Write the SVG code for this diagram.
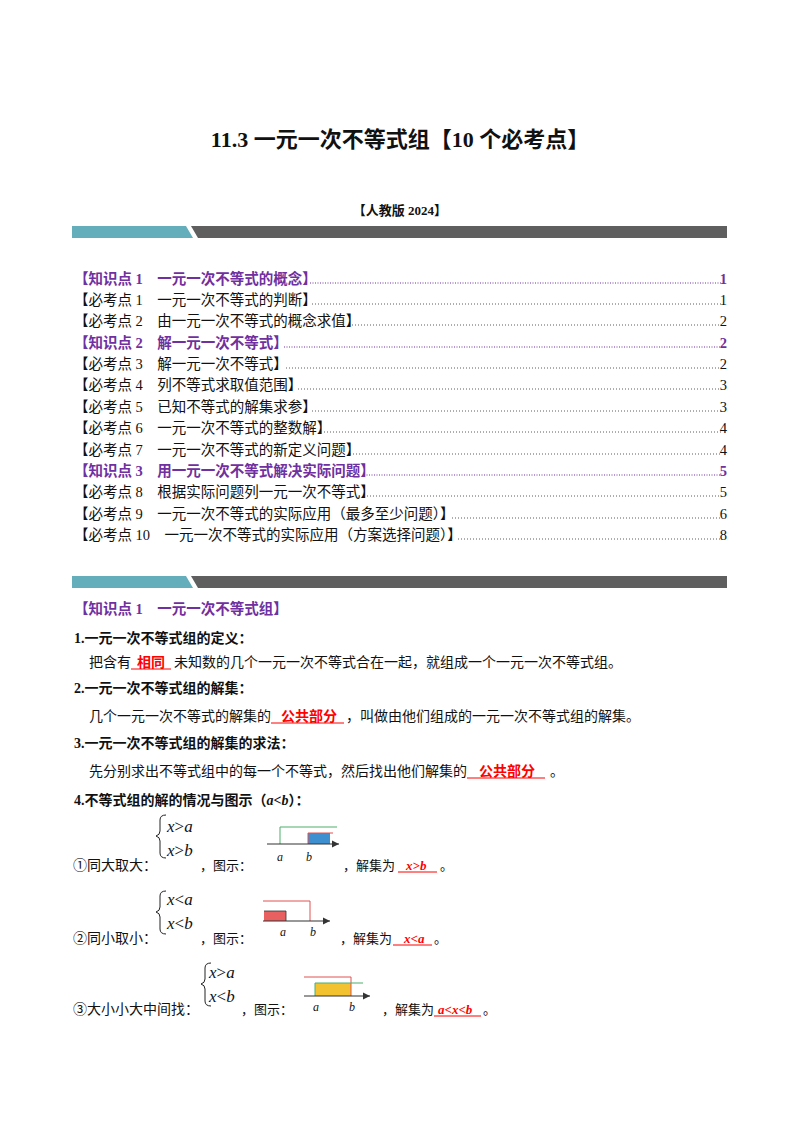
<svg xmlns="http://www.w3.org/2000/svg" width="800" height="1132" viewBox="0 0 800 1132">
<style>
text{font-family:"Liberation Serif","Noto Sans CJK SC",serif;font-size:14.5px;fill:#111}
.c{font-size:14px}
.s{font-size:13px}
.b{font-weight:bold}
.p{fill:#7030a0;font-weight:bold}
.r{fill:#ff0000;font-weight:bold}
.ri{fill:#ff0000;font-weight:bold;font-style:italic}
.i{font-style:italic}
.u{stroke:#ff0000;stroke-width:1}
.ax{stroke:#333;stroke-width:1.2;fill:none}
.dots{stroke:#333;stroke-width:0.8;stroke-dasharray:1 2}
.pd{stroke:#7030a0;stroke-width:1;stroke-dasharray:1 1.5}
</style>
<defs>
<marker id="ar" viewBox="0 0 6 6" refX="6" refY="3" markerWidth="6" markerHeight="6" orient="auto"><path d="M0,0L6,3L0,6z" fill="#333"/></marker>
</defs>
<rect width="800" height="1132" fill="#fff"/>
<text x="400" y="147" text-anchor="middle" class="b" style="font-size:22px">11.3  一元一次不等式组【10 个必考点】</text>
<text x="400" y="215" text-anchor="middle" class="b" style="font-size:13px">【人教版 2024】</text>
<g id="bar1"><path d="M72,226H186L193,238H72z" fill="#64aebb"/><path d="M191,226H727V238H198z" fill="#5f5f5f"/></g>
<g id="toc">
<text x="74" y="284" class="p">【知识点 1　一元一次不等式的概念】</text><line x1="310" y1="283" x2="721" y2="283" class="pd"/><text x="727" y="284" text-anchor="end" class="p">1</text>
<text x="74" y="305">【必考点 1　一元一次不等式的判断】</text><line x1="312" y1="304" x2="721" y2="304" class="dots"/><text x="727" y="305" text-anchor="end">1</text>
<text x="74" y="326">【必考点 2　由一元一次不等式的概念求值】</text><line x1="352" y1="325" x2="721" y2="325" class="dots"/><text x="727" y="326" text-anchor="end">2</text>
<text x="74" y="348" class="p">【知识点 2　解一元一次不等式】</text><line x1="284" y1="347" x2="721" y2="347" class="pd"/><text x="727" y="348" text-anchor="end" class="p">2</text>
<text x="74" y="369">【必考点 3　解一元一次不等式】</text><line x1="286" y1="368" x2="721" y2="368" class="dots"/><text x="727" y="369" text-anchor="end">2</text>
<text x="74" y="390">【必考点 4　列不等式求取值范围】</text><line x1="298" y1="389" x2="721" y2="389" class="dots"/><text x="727" y="390" text-anchor="end">3</text>
<text x="74" y="412">【必考点 5　已知不等式的解集求参】</text><line x1="312" y1="411" x2="721" y2="411" class="dots"/><text x="727" y="412" text-anchor="end">3</text>
<text x="74" y="433">【必考点 6　一元一次不等式的整数解】</text><line x1="324" y1="432" x2="721" y2="432" class="dots"/><text x="727" y="433" text-anchor="end">4</text>
<text x="74" y="455">【必考点 7　一元一次不等式的新定义问题】</text><line x1="350" y1="454" x2="721" y2="454" class="dots"/><text x="727" y="455" text-anchor="end">4</text>
<text x="74" y="476" class="p">【知识点 3　用一元一次不等式解决实际问题】</text><line x1="364" y1="475" x2="721" y2="475" class="pd"/><text x="727" y="476" text-anchor="end" class="p">5</text>
<text x="74" y="497">【必考点 8　根据实际问题列一元一次不等式】</text><line x1="364" y1="496" x2="721" y2="496" class="dots"/><text x="727" y="497" text-anchor="end">5</text>
<text x="74" y="519">【必考点 9　一元一次不等式的实际应用（最多至少问题）】</text><line x1="452" y1="518" x2="721" y2="518" class="dots"/><text x="727" y="519" text-anchor="end">6</text>
<text x="74" y="540">【必考点 10　一元一次不等式的实际应用（方案选择问题）】</text><line x1="458" y1="539" x2="721" y2="539" class="dots"/><text x="727" y="540" text-anchor="end">8</text>
</g>
<g id="bar2"><path d="M72,576H186L193,588H72z" fill="#64aebb"/><path d="M191,576H727V588H198z" fill="#5f5f5f"/></g>
<g id="content">
<text x="74" y="614" class="p">【知识点 1　一元一次不等式组】</text>
<text x="74" y="643" class="b c">1.一元一次不等式组的定义：</text>
<text x="89" y="667" class="c">把含有</text><text x="137" y="667" class="r c">相同</text><text x="174" y="667" class="c">未知数的几个一元一次不等式合在一起，就组成一个一元一次不等式组。</text>
<line x1="131" y1="669" x2="171" y2="669" class="u"/>
<text x="74" y="693" class="b c">2.一元一次不等式组的解集：</text>
<text x="89" y="721" class="c">几个一元一次不等式的解集的</text><text x="281" y="721" class="r c">公共部分</text><text x="346" y="721" class="c">，叫做由他们组成的一元一次不等式组的解集。</text>
<line x1="271" y1="723" x2="344" y2="723" class="u"/>
<text x="74" y="748" class="b c">3.一元一次不等式组的解集的求法：</text>
<text x="89" y="776" class="c">先分别求出不等式组中的每一个不等式，然后找出他们解集的</text><text x="479" y="776" class="r c">公共部分</text><text x="550" y="776" class="c">。</text>
<line x1="467" y1="778" x2="545" y2="778" class="u"/>
<text x="74" y="805" class="b c">4.不等式组的解的情况与图示（<tspan class="i">a</tspan>&lt;<tspan class="i">b</tspan>）：</text>
</g>
<g id="case1">
<path d="M166,815Q160,815 160,820V831Q160,835 156,836Q160,837 160,841V853Q160,858 166,858" fill="none" stroke="#222" stroke-width="1"/>
<text x="167" y="832" style="font-size:17px"><tspan class="i">x</tspan>&gt;<tspan class="i">a</tspan></text>
<text x="167" y="856" style="font-size:17px"><tspan class="i">x</tspan>&gt;<tspan class="i">b</tspan></text>
<text x="73" y="870" class="c">①同大取大：</text>
<text x="200" y="870" class="s">，图示：</text>
<path d="M280,844V827H337" fill="none" stroke="#4caf6a" stroke-width="1"/>
<rect x="308" y="833" width="22" height="11" fill="#3d8fd0"/>
<path d="M308,844V833H333" fill="none" stroke="#e05050" stroke-width="1"/>
<line x1="267" y1="844" x2="339" y2="844" class="ax" marker-end="url(#ar)"/>
<text x="277" y="861" class="i" style="font-size:12px">a</text>
<text x="306" y="861" class="i" style="font-size:12px">b</text>
<text x="343" y="870" class="s">，解集为</text><text x="406" y="870" class="ri s">x&gt;b</text><text x="440" y="870" class="s">。</text>
<line x1="398" y1="872" x2="437" y2="872" class="u"/>
</g>
<g id="case2">
<path d="M166,891Q160,891 160,896V907Q160,911 156,912Q160,913 160,917V929Q160,934 166,934" fill="none" stroke="#222" stroke-width="1"/>
<text x="167" y="905" style="font-size:17px"><tspan class="i">x</tspan>&lt;<tspan class="i">a</tspan></text>
<text x="167" y="929" style="font-size:17px"><tspan class="i">x</tspan>&lt;<tspan class="i">b</tspan></text>
<text x="73" y="943" class="c">②同小取小：</text>
<text x="200" y="943" class="s">，图示：</text>
<rect x="264" y="911" width="22" height="10" fill="#e86060"/>
<path d="M264,911H286V921" fill="none" stroke="#333" stroke-width="0.8"/>
<path d="M263,901H310V921" fill="none" stroke="#e05050" stroke-width="1"/>
<line x1="263" y1="921" x2="330" y2="921" class="ax" marker-end="url(#ar)"/>
<text x="280" y="936" class="i" style="font-size:12px">a</text>
<text x="310" y="936" class="i" style="font-size:12px">b</text>
<text x="340" y="943" class="s">，解集为</text><text x="404" y="943" class="ri s">x&lt;a</text><text x="434" y="943" class="s">。</text>
<line x1="393" y1="945" x2="432" y2="945" class="u"/>
</g>
<g id="case3">
<path d="M211,963Q205,963 205,968V979Q205,983 201,984Q205,985 205,989V1001Q205,1006 211,1006" fill="none" stroke="#222" stroke-width="1"/>
<text x="209" y="978" style="font-size:17px"><tspan class="i">x</tspan>&gt;<tspan class="i">a</tspan></text>
<text x="209" y="1002" style="font-size:17px"><tspan class="i">x</tspan>&lt;<tspan class="i">b</tspan></text>
<text x="73" y="1014" class="c">③大小小大中间找：</text>
<text x="241" y="1014" class="s">，图示：</text>
<rect x="315" y="983" width="36" height="13" fill="#f2c230"/>
<path d="M304,977H351V996" fill="none" stroke="#e05050" stroke-width="1"/>
<path d="M315,996V983H363" fill="none" stroke="#4caf6a" stroke-width="1"/>
<line x1="304" y1="996" x2="370" y2="996" class="ax" marker-end="url(#ar)"/>
<text x="313" y="1011" class="i" style="font-size:12px">a</text>
<text x="349" y="1011" class="i" style="font-size:12px">b</text>
<text x="382" y="1014" class="s">，解集为</text><text x="438" y="1014" class="ri s">a&lt;x&lt;b</text><text x="483" y="1014" class="s">。</text>
<line x1="434" y1="1016" x2="481" y2="1016" class="u"/>
</g>
</svg>
